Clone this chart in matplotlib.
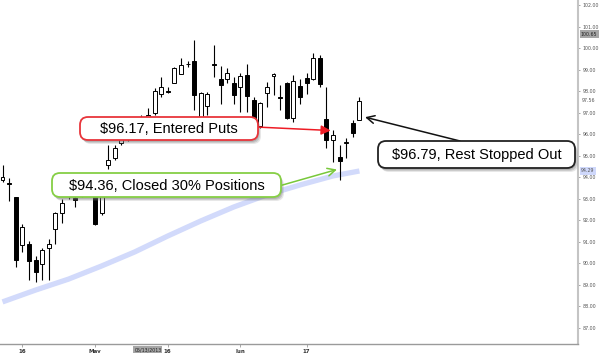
import numpy as np
import pandas as pd
import matplotlib
matplotlib.use("Agg")
import matplotlib.pyplot as plt
from matplotlib.patches import FancyBboxPatch
from matplotlib.transforms import Affine2D, blended_transform_factory

# trading days (Memorial Day closed)
dates = pd.bdate_range("2013-04-11", "2013-06-27").drop(pd.Timestamp("2013-05-27"))

opens = [93.87, 93.75, 93.08, 90.85, 90.90, 90.16, 89.97, 90.71, 91.60, 92.34,
         93.20, 93.05, 93.20, 93.70, 93.40, 92.34, 94.57, 94.89, 95.59, 95.90,
         96.20, 96.10, 96.60, 96.98, 97.87, 98.00, 98.38, 98.80, 99.26, 99.40,
         96.60, 97.31, 99.25, 98.56, 98.56, 98.38, 98.19, 98.75, 97.59, 96.40,
         97.91, 98.70, 97.72, 98.38, 96.75, 98.24, 98.61, 98.56, 99.54, 96.70,
         95.73, 94.94, 95.60, 96.52, 96.66]
highs = [94.57, 93.96, 93.10, 91.83, 91.04, 90.34, 90.71, 91.13, 92.39, 92.99,
         93.70, 93.20, 93.90, 94.00, 93.60, 93.30, 95.50, 95.50, 96.00, 96.40,
         96.60, 96.90, 97.20, 98.14, 98.66, 98.20, 99.12, 99.54, 99.40, 100.37,
         97.95, 97.96, 100.14, 99.17, 99.07, 98.66, 98.84, 99.26, 97.73, 97.50,
         98.42, 98.82, 98.30, 98.42, 98.75, 98.56, 98.84, 99.77, 99.68, 98.19,
         96.19, 95.50, 95.82, 96.66, 97.73]
lows = [93.78, 92.90, 89.83, 90.53, 89.23, 89.13, 89.23, 89.23, 90.90, 91.87,
        93.00, 92.60, 93.10, 93.30, 91.80, 92.25, 94.38, 94.80, 95.50, 95.70,
        95.90, 95.90, 96.30, 96.90, 97.73, 97.90, 98.38, 98.80, 99.12, 97.12,
        96.40, 96.90, 98.66, 97.40, 98.38, 97.40, 97.03, 97.03, 96.40, 96.30,
        97.26, 97.82, 97.10, 96.70, 96.57, 97.40, 97.86, 98.50, 98.19, 95.36,
        94.71, 93.87, 94.89, 95.87, 96.66]
closes = [94.01, 93.70, 90.16, 91.69, 90.11, 89.60, 90.62, 90.90, 92.34, 92.80,
          93.40, 92.95, 93.70, 93.50, 91.83, 93.20, 94.80, 95.36, 95.78, 96.20,
          96.00, 96.60, 96.90, 98.00, 98.19, 97.98, 99.07, 99.21, 99.24, 97.82,
          97.91, 97.87, 99.20, 98.28, 98.84, 97.82, 98.70, 97.77, 96.55, 97.45,
          98.19, 98.80, 97.68, 96.75, 98.47, 97.73, 98.38, 99.54, 98.33, 95.73,
          95.96, 94.75, 95.65, 96.05, 97.56]

# 50 day moving average, read at a few days
ma_days = ["2013-04-11", "2013-04-18", "2013-04-25", "2013-05-02", "2013-05-09", "2013-05-16",
           "2013-05-23", "2013-05-31", "2013-06-07", "2013-06-14", "2013-06-21", "2013-06-27"]
ma_vals = [88.21, 88.76, 89.27, 89.88, 90.53, 91.27, 91.97, 92.62, 93.18, 93.64, 94.06, 94.29]

yticks = list(range(87, 103))
xtick_days = ["2013-04-16", "2013-05-01", "2013-05-16", "2013-06-03", "2013-06-17"]
xtick_labels = ["16", "May", "16", "Jun", "17"]

cross_day = "2013-05-13"
cross_price = 100.65

ann_text = ["$96.17, Entered Puts", "$94.36, Closed 30% Positions", "$96.79, Rest Stopped Out"]
ann_price = [96.17, 94.36, 96.79]
ann_day = ["2013-06-21", "2013-06-24", "2013-06-27"]


def day_index(d):
    return dates.get_loc(pd.Timestamp(d))


def main():
    fig = plt.figure(figsize=(6, 3.53), dpi=100)
    ax = fig.add_axes([0, 9 / 353, 578 / 600, 344 / 353])
    # pixel coords measured from the top-left of the image
    pix = Affine2D().scale(1 / 600, -1 / 353).translate(0, 1) + fig.transFigure

    x = np.arange(len(dates))
    o, h, l, c = map(np.array, (opens, highs, lows, closes))
    up = c >= o

    ma_x = [day_index(d) for d in ma_days]
    ax.plot(ma_x, ma_vals, color="#d2dafb", lw=3.8, solid_capstyle="butt", zorder=1)

    ax.vlines(x, l, h, color="black", lw=0.8, zorder=2)
    body_up = np.maximum(c - o, 0.02)
    body_dn = np.maximum(o - c, 0.02)
    ax.bar(x[up], body_up[up], bottom=o[up], width=0.6, facecolor="white",
           edgecolor="black", lw=0.7, zorder=3)
    ax.bar(x[~up], body_dn[~up], bottom=c[~up], width=0.6, facecolor="black",
           edgecolor="black", lw=0.7, zorder=3)

    ax.set_xlim(-0.38, 87.07)
    ax.set_ylim(86.255, 102.232)

    for s in ["top", "left"]:
        ax.spines[s].set_visible(False)
    ax.spines["right"].set_color("#c4c4c4")
    ax.spines["right"].set_linewidth(1.5)
    ax.spines["bottom"].set_color("#9a9a9a")
    ax.spines["bottom"].set_linewidth(1.0)

    ax.yaxis.tick_right()
    ax.set_yticks(yticks)
    ax.set_yticklabels([f"{v:.2f}" for v in yticks])
    ax.tick_params(axis="y", length=1.5, width=0.6, color="#999999", pad=2,
                   labelsize=3.4, labelcolor="#555555")
    ax.set_xticks([day_index(d) for d in xtick_days])
    ax.set_xticklabels(xtick_labels, fontweight="bold")
    ax.tick_params(axis="x", length=2, width=0.6, color="#999999", pad=1.5,
                   labelsize=4, labelcolor="#333333")

    # price markers on the right scale
    ytr = blended_transform_factory(ax.transAxes, ax.transData)
    ax.text(1.005, cross_price, f"{cross_price:.2f}", transform=ytr, fontsize=3.4,
            color="#222222", va="center", ha="left",
            bbox=dict(boxstyle="square,pad=0.25", fc="#a6a6a6", ec="none"))
    ax.text(1.007, closes[-1], f"{closes[-1]:.2f}", transform=ytr, fontsize=3.4,
            color="#555555", va="center", ha="left")
    ax.text(1.005, ma_vals[-1], f"{ma_vals[-1]:.2f}", transform=ytr, fontsize=3.4,
            color="#555555", va="center", ha="left",
            bbox=dict(boxstyle="square,pad=0.25", fc="#cfd8fb", ec="none"))

    xtr = blended_transform_factory(ax.transData, ax.transAxes)
    ax.text(day_index(cross_day), -0.009, pd.Timestamp(cross_day).strftime("%m/%d/%Y"),
            transform=xtr, fontsize=3.4, color="#222222", va="top", ha="center",
            bbox=dict(boxstyle="square,pad=0.2", fc="#a6a6a6", ec="none"))

    # call-out boxes: (left, top, width, height) in pixels, edge colour
    boxes = [(80, 117, 178, 23, "#e8353b"),
             (52, 173, 229, 24, "#86cf45"),
             (378, 141, 197, 27, "#222222")]
    arrow_start = [(256, 127), (279, 186), (460, 141)]
    tip_shift = [-0.35, -0.4, 0.85]
    arrow_col = ["#ee1c25", "#78c83a", "#111111"]
    arrow_style = ["-|>", "->", "->"]

    for k in range(3):
        x0, y0, w, hh, ec = boxes[k]
        for off, a in [(4, 0.18), (3, 0.25), (2, 0.3)]:
            ax.add_patch(FancyBboxPatch((x0 + off - 1, y0 + off), w, hh,
                                        boxstyle="round,pad=0,rounding_size=8",
                                        transform=pix, fc="#7a7a7a", ec="none",
                                        alpha=a, zorder=5, clip_on=False))
        ax.add_patch(FancyBboxPatch((x0, y0), w, hh,
                                    boxstyle="round,pad=0,rounding_size=8",
                                    transform=pix, fc="white", ec=ec, lw=1.3,
                                    zorder=6, clip_on=False))
        ax.text(x0 + w / 2, y0 + hh / 2 + 0.5, ann_text[k], transform=pix,
                ha="center", va="center", fontsize=10.5,
                family=["Liberation Sans", "DejaVu Sans"], color="black", zorder=7)
        ax.annotate("", xy=(day_index(ann_day[k]) + tip_shift[k], ann_price[k]),
                    xycoords="data", xytext=arrow_start[k], textcoords=pix,
                    arrowprops=dict(arrowstyle=arrow_style[k], color=arrow_col[k],
                                    lw=1.1, shrinkA=0, shrinkB=0, mutation_scale=14),
                    zorder=5)

    fig.savefig("out.png", dpi=100)


if __name__ == "__main__":
    main()
